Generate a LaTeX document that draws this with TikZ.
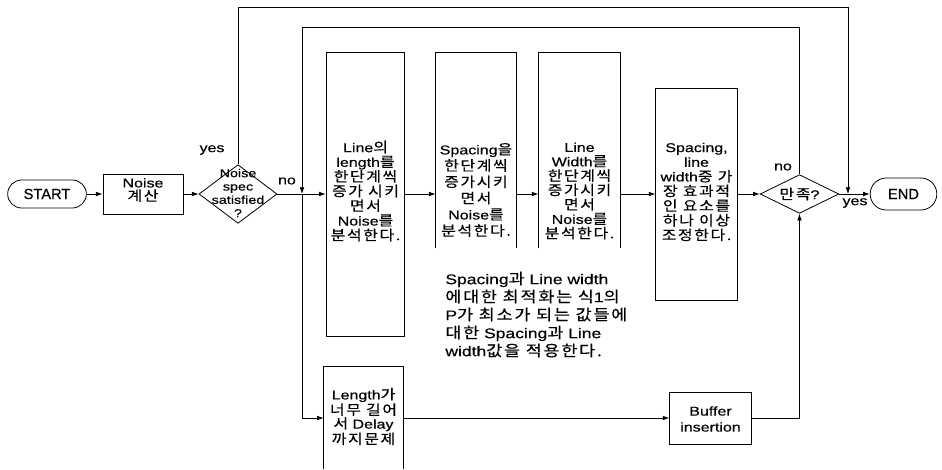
\documentclass[tikz,border=0pt]{standalone}
\usepackage{fontspec}
\setmainfont[FakeStretch=1.25,FakeBold=0.4]{Liberation Sans}
\newfontfamily\termfont[FakeBold=0.5]{Liberation Sans}
\newfontfamily\krfont[LetterSpace=12,FakeStretch=1.15,FakeBold=0.4,Scale=1.08]{Noto Sans CJK KR}
\newcommand\kr[1]{{\krfont #1}}
\usetikzlibrary{arrows.meta,shapes.geometric}

\tikzset{
  blk/.style={draw, rectangle, inner sep=0pt},
  opn/.style={rectangle, inner sep=0pt},
  term/.style={draw, rectangle, inner sep=0pt, font=\termfont\fontsize{11}{13}\selectfont},
  dec/.style={draw, diamond, inner sep=0pt},
  lbl/.style={align=center, inner sep=0pt, font=\fontsize{9.6}{#1}\selectfont},
  lbl/.default=11pt,
  flow/.style={-{Latex[length=5pt,width=3.5pt]}}
}

\begin{document}
\begin{tikzpicture}[x=0.75pt,y=-0.75pt,line width=0.6pt]
\useasboundingbox (0,0) rectangle (942,469);

% start / first check
\node[term,rounded corners=10.5pt,minimum width=59pt,minimum height=21pt] (start) at (47,194) {START};
\node[blk,minimum width=60pt,minimum height=30pt] (noise) at (143,194) {};
\node[lbl=10pt] (noisetxt) at (143,190) {Noise\\\kr{계산}};
\node[dec,minimum width=58.5pt,minimum height=44pt] (spec) at (238,194) {};
\node[lbl=10pt,font=\fontsize{8.6}{10}\selectfont] (spectxt) at (238,193) {Noise\\spec\\satisfied\\?};
\node[lbl] (yes1) at (212,150) {yes};
\node[lbl] (no1) at (287,181) {no};
\coordinate (jn) at (302,194);

% upper branch
\node[blk,minimum width=59pt,minimum height=213pt] (len) at (365.5,194) {};
\node[lbl=11pt] (lentxt) at (365.5,191) {Line\kr{의}\\length\kr{를}\\\kr{한단계씩}\\\kr{증가 시키}\\\kr{면서}\\Noise\kr{를}\\\kr{분석한다.}};
\node[opn,minimum width=60pt,minimum height=146pt] (spc) at (476,150.5) {};
\node[lbl=12.2pt] (spctxt) at (476,190) {Spacing\kr{을}\\\kr{한단계씩}\\\kr{증가시키}\\\kr{면서}\\Noise\kr{를}\\\kr{분석한다.}};
\node[opn,minimum width=61pt,minimum height=146pt] (wid) at (579.5,150.5) {};
\node[lbl=10.8pt] (widtxt) at (579.5,191) {Line\\Width\kr{를}\\\kr{한단계씩}\\\kr{증가시키}\\\kr{면서}\\Noise\kr{를}\\\kr{분석한다.}};
\node[blk,minimum width=61pt,minimum height=159pt] (adj) at (696.5,194) {};
\node[lbl=11pt] (adjtxt) at (696.5,192) {Spacing,\\line\\width\kr{중 가}\\\kr{장 효과적}\\\kr{인 요소를}\\\kr{하나 이상}\\\kr{조정한다.}};
\draw (spc.south west) |- (spc.north east) -- (spc.south east);
\draw (wid.south west) |- (wid.north east) -- (wid.south east);

\node[lbl=13.5pt,align=left,anchor=west,font=\fontsize{10.5}{13.5}\selectfont] (note) at (445,314.5) {Spacing\kr{과} Line width\\\kr{에대한 최적화는 식}1\kr{의}\\P\kr{가 최소가 되는 값들에}\\\kr{대한} Spacing\kr{과} Line\\width\kr{값을 적용한다.}};

% second check / end
\node[dec,minimum width=59pt,minimum height=29pt] (ok) at (799.5,194) {};
\node[lbl] (oktxt) at (799.5,194) {\kr{만족}?};
\node[lbl] (no2) at (783,167) {no};
\node[lbl] (yes2) at (855,203) {yes};
\node[term,rounded corners=12pt,minimum width=50pt,minimum height=24pt] (end) at (903.5,194) {END};
\coordinate (otop) at (848,7);
\coordinate (itop) at (302,27);

% lower branch
\node[opn,minimum width=59pt,minimum height=76.5pt] (dly) at (363.5,418) {};
\node[lbl=10.3pt] (dlytxt) at (363.5,416.5) {Length\kr{가}\\\kr{너무 길어}\\\kr{서} Delay\\\kr{까지문제}};
\draw (dly.south west) |- (dly.north east) -- (dly.south east);
\node[blk,minimum width=61pt,minimum height=39pt] (buf) at (710.5,418) {};
\node[lbl=12pt] (buftxt) at (710.5,419) {Buffer\\insertion};

% connectors
\draw[flow] (start) -- (noise);
\draw[flow] (noise) -- (spec);
\draw (spec.east) -- (jn);
\draw[flow] (jn) -- (len.west);
\draw[flow] (len.east) -- (len.east -| spc.west);
\draw[flow] (len.east -| spc.east) -- (len.east -| wid.west);
\draw[flow] (len.east -| wid.east) -- (adj.west);
\draw[flow] (adj.east) -- (ok.west);
\draw[flow] (ok.east) -- (end.west);
\draw[flow] (spec.north) |- (otop) -- (otop |- end.west);
\draw[flow] (ok.north) |- (itop) -- (jn);
\draw[flow] (jn) |- (dly.west);
\draw[flow] (dly.east) -- (buf.west);
\draw[flow] (buf.east) -| (ok.south);
\end{tikzpicture}
\end{document}
